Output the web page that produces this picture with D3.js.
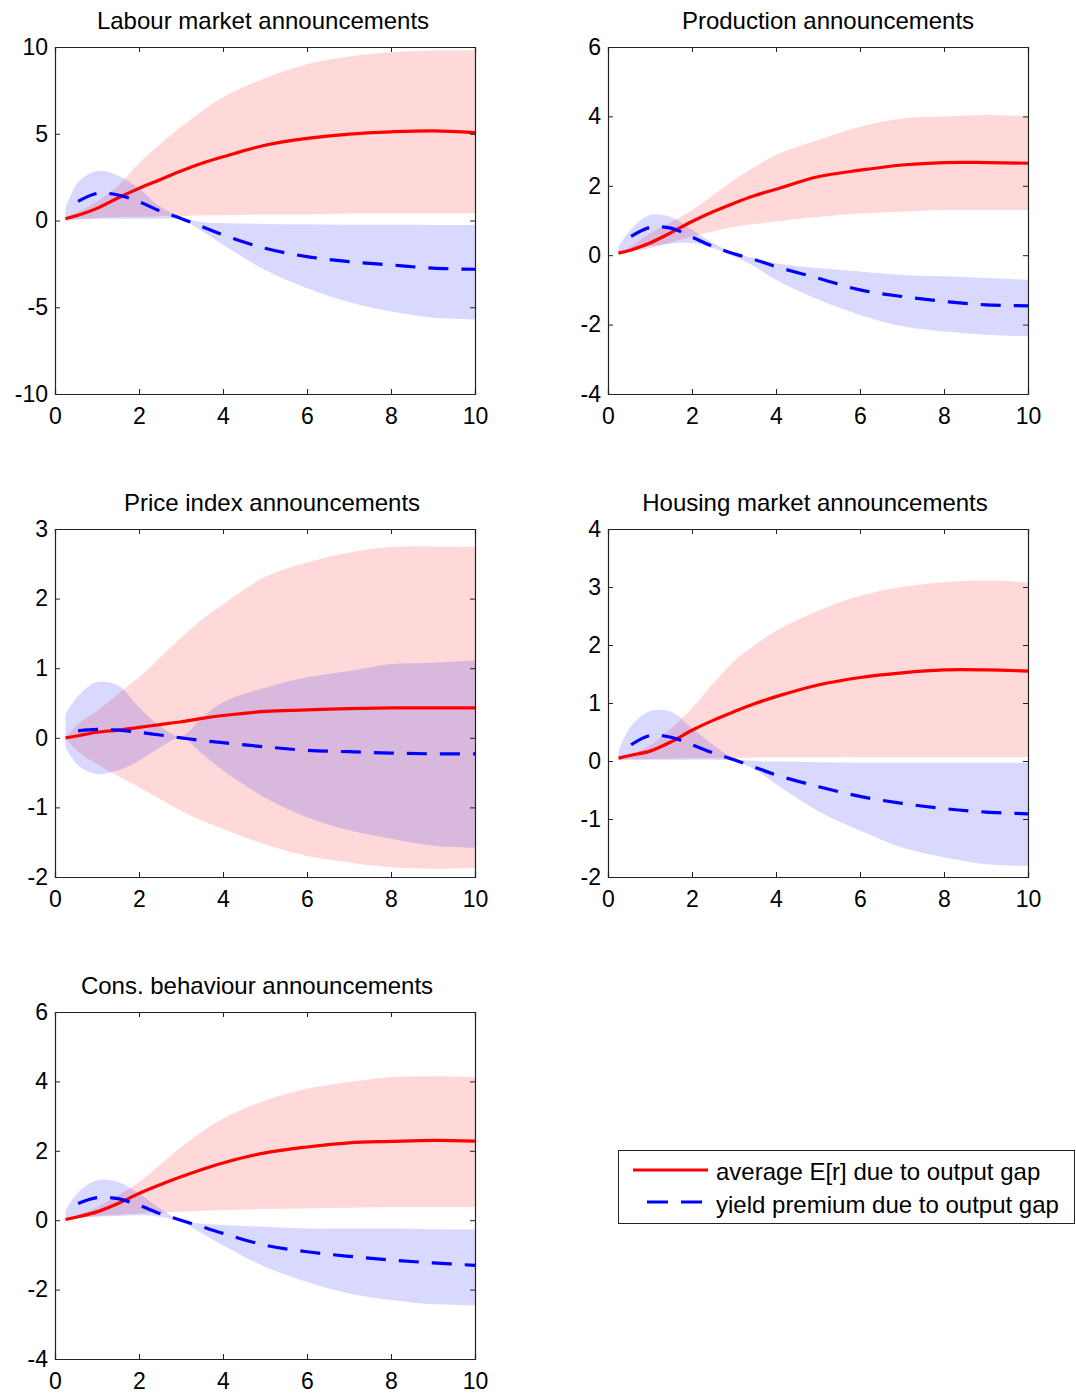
<!DOCTYPE html>
<html>
<head>
<meta charset="utf-8">
<script src="https://cdn.jsdelivr.net/npm/d3@7"></script>
<style>
  html, body { margin: 0; padding: 0; background: #fff; }
  svg { display: block; }
  text { font-family: "Liberation Sans", Arial, sans-serif; fill: #000; }
</style>
</head>
<body>
<svg id="chart" width="1076" height="1393"></svg>
<script>
// ---------- data ----------
const horizon = [0.25, 0.55, 1, 1.5, 2, 2.5, 3, 3.5, 4, 5, 6, 7, 8, 9, 10];
const xTicks = [0, 2, 4, 6, 8, 10];

const titles = [
  "Labour market announcements",
  "Production announcements",
  "Price index announcements",
  "Housing market announcements",
  "Cons. behaviour announcements"
];

const yTicksLabour = [-10, -5, 0, 5, 10];
const yTicksProduction = [-4, -2, 0, 2, 4, 6];
const yTicksPrice = [-2, -1, 0, 1, 2, 3];
const yTicksHousing = [-2, -1, 0, 1, 2, 3, 4];
const yTicksCons = [-4, -2, 0, 2, 4, 6];

// Labour market
const labourRedMid = [0.1, 0.3, 0.7, 1.3, 1.85, 2.35, 2.85, 3.3, 3.67, 4.34, 4.73, 4.98, 5.11, 5.17, 5.07];
const labourRedHi  = [0.2, 0.5, 1.1, 2.0, 3.3, 4.4, 5.4, 6.3, 7.1, 8.2, 9.0, 9.45, 9.7, 9.8, 9.8];
const labourRedLo  = [0.05, 0.1, 0.15, 0.2, 0.2, 0.25, 0.25, 0.3, 0.3, 0.35, 0.35, 0.4, 0.4, 0.4, 0.4];
const labourBlueMid = [null, 1.1, 1.56, 1.47, 1.08, 0.55, 0.12, -0.35, -0.83, -1.6, -2.08, -2.37, -2.56, -2.75, -2.81];
const labourBlueHi  = [0.7, 2.2, 2.85, 2.6, 1.85, 0.8, 0.2, -0.1, -0.15, -0.2, -0.22, -0.24, -0.25, -0.26, -0.26];
const labourBlueLo  = [0.0, 0.05, 0.1, 0.1, 0.1, 0.1, 0.05, -0.6, -1.4, -2.85, -3.9, -4.7, -5.25, -5.6, -5.7];

// Production
const prodRedMid = [0.06, 0.15, 0.35, 0.65, 0.97, 1.25, 1.5, 1.72, 1.9, 2.26, 2.45, 2.6, 2.67, 2.67, 2.65];
const prodRedHi  = [0.06, 0.25, 0.63, 0.95, 1.3, 1.73, 2.17, 2.55, 2.89, 3.32, 3.7, 3.94, 4.0, 4.04, 4.0];
const prodRedLo  = [0.06, 0.1, 0.2, 0.37, 0.54, 0.68, 0.82, 0.9, 0.97, 1.1, 1.2, 1.25, 1.3, 1.3, 1.3];
const prodBlueMid = [null, 0.54, 0.8, 0.78, 0.52, 0.25, 0.04, -0.13, -0.33, -0.66, -1.0, -1.19, -1.33, -1.43, -1.46];
const prodBlueHi  = [0.25, 0.75, 1.16, 1.1, 0.73, 0.35, 0.06, -0.09, -0.23, -0.37, -0.47, -0.57, -0.61, -0.66, -0.71];
const prodBlueLo  = [0.0, 0.12, 0.25, 0.33, 0.35, 0.2, -0.04, -0.33, -0.71, -1.28, -1.72, -2.05, -2.2, -2.29, -2.34];

// Price index
const priceRedMid = [0.0, 0.03, 0.08, 0.11, 0.15, 0.19, 0.23, 0.28, 0.32, 0.38, 0.4, 0.42, 0.43, 0.43, 0.43];
const priceRedHi  = [0.0, 0.2, 0.39, 0.63, 0.87, 1.15, 1.44, 1.7, 1.92, 2.31, 2.52, 2.66, 2.74, 2.75, 2.74];
const priceRedLo  = [0.0, -0.2, -0.38, -0.55, -0.71, -0.88, -1.05, -1.19, -1.31, -1.53, -1.7, -1.79, -1.86, -1.88, -1.87];
const priceBlueMid = [null, 0.1, 0.12, 0.11, 0.08, 0.04, 0.0, -0.04, -0.07, -0.13, -0.18, -0.2, -0.22, -0.23, -0.23];
const priceBlueHi  = [0.34, 0.6, 0.8, 0.75, 0.44, 0.17, 0.02, 0.29, 0.51, 0.72, 0.87, 0.96, 1.06, 1.08, 1.11];
const priceBlueLo  = [-0.14, -0.4, -0.52, -0.47, -0.33, -0.14, 0.0, -0.23, -0.47, -0.86, -1.14, -1.33, -1.45, -1.55, -1.58];

// Housing market
const housingRedMid = [0.05, 0.1, 0.17, 0.33, 0.53, 0.7, 0.85, 0.99, 1.11, 1.31, 1.44, 1.52, 1.57, 1.57, 1.55];
const housingRedHi  = [0.05, 0.12, 0.27, 0.56, 0.91, 1.33, 1.72, 2.0, 2.24, 2.59, 2.85, 3.0, 3.08, 3.11, 3.08];
const housingRedLo  = [0.02, 0.03, 0.03, 0.04, 0.05, 0.05, 0.05, 0.06, 0.06, 0.06, 0.07, 0.07, 0.07, 0.07, 0.07];
const housingBlueMid = [null, 0.28, 0.44, 0.41, 0.28, 0.14, 0.02, -0.11, -0.24, -0.44, -0.61, -0.73, -0.82, -0.88, -0.91];
const housingBlueHi  = [0.17, 0.6, 0.86, 0.85, 0.57, 0.28, 0.05, 0.0, -0.01, -0.02, -0.03, -0.03, -0.03, -0.03, -0.03];
const housingBlueLo  = [0.02, 0.02, 0.02, 0.02, 0.02, 0.02, 0.0, -0.15, -0.4, -0.86, -1.2, -1.49, -1.66, -1.78, -1.81];

// Consumer behaviour
const consRedMid = [0.02, 0.1, 0.24, 0.48, 0.77, 1.02, 1.25, 1.46, 1.65, 1.94, 2.11, 2.23, 2.27, 2.3, 2.28];
const consRedHi  = [0.05, 0.15, 0.38, 0.72, 1.1, 1.6, 2.11, 2.55, 2.93, 3.45, 3.79, 3.98, 4.13, 4.15, 4.13];
const consRedLo  = [0.0, 0.06, 0.12, 0.16, 0.19, 0.22, 0.24, 0.27, 0.29, 0.32, 0.34, 0.36, 0.38, 0.38, 0.38];
const consBlueMid = [null, 0.48, 0.65, 0.62, 0.43, 0.19, 0.0, -0.19, -0.38, -0.72, -0.91, -1.04, -1.15, -1.23, -1.3];
const consBlueHi  = [0.29, 0.8, 1.15, 1.1, 0.77, 0.34, 0.0, -0.1, -0.14, -0.19, -0.24, -0.24, -0.24, -0.26, -0.27];
const consBlueLo  = [0.05, 0.08, 0.1, 0.12, 0.14, 0.1, -0.05, -0.38, -0.72, -1.34, -1.78, -2.11, -2.3, -2.42, -2.45];

const legendLabels = ["average E[r] due to output gap", "yield premium due to output gap"];

// ---------- layout ----------
const panels = [
  { title: titles[0], left: 55, top: 47, w: 420, h: 347, yTicks: yTicksLabour, tdx: -2,
    rm: labourRedMid, rh: labourRedHi, rl: labourRedLo, bm: labourBlueMid, bh: labourBlueHi, bl: labourBlueLo },
  { title: titles[1], left: 608, top: 47, w: 420, h: 347, yTicks: yTicksProduction, tdx: 10,
    rm: prodRedMid, rh: prodRedHi, rl: prodRedLo, bm: prodBlueMid, bh: prodBlueHi, bl: prodBlueLo },
  { title: titles[2], left: 55, top: 529, w: 420, h: 348, yTicks: yTicksPrice, tdx: 7,
    rm: priceRedMid, rh: priceRedHi, rl: priceRedLo, bm: priceBlueMid, bh: priceBlueHi, bl: priceBlueLo },
  { title: titles[3], left: 608, top: 529, w: 420, h: 348, yTicks: yTicksHousing, tdx: -3,
    rm: housingRedMid, rh: housingRedHi, rl: housingRedLo, bm: housingBlueMid, bh: housingBlueHi, bl: housingBlueLo },
  { title: titles[4], left: 55, top: 1012, w: 420, h: 347, yTicks: yTicksCons, tdx: -8,
    rm: consRedMid, rh: consRedHi, rl: consRedLo, bm: consBlueMid, bh: consBlueHi, bl: consBlueLo }
];

const svg = d3.select("#chart");
const RED = "#ff0000", BLUE = "#0000ff";
const DASH = "20,13";
const fmt = d => String(d);

panels.forEach(p => {
  const g = svg.append("g").attr("transform", `translate(${p.left},${p.top})`);
  const x = d3.scaleLinear().domain([0, 10]).range([0, p.w]);
  const y = d3.scaleLinear().domain(d3.extent(p.yTicks)).range([p.h, 0]);

  const rows = horizon.map((h, i) => ({
    x: h, rm: p.rm[i], rh: p.rh[i], rl: p.rl[i], bm: p.bm[i], bh: p.bh[i], bl: p.bl[i]
  }));
  const curve = d3.curveCatmullRom.alpha(0.5);

  g.append("path")
    .attr("d", d3.area().curve(curve).x(d => x(d.x)).y0(d => y(d.rl)).y1(d => y(d.rh))(rows))
    .attr("fill", RED).attr("fill-opacity", 0.15);
  g.append("path")
    .attr("d", d3.area().curve(curve).x(d => x(d.x)).y0(d => y(d.bl)).y1(d => y(d.bh))(rows))
    .attr("fill", BLUE).attr("fill-opacity", 0.15);

  g.append("path")
    .attr("d", d3.line().curve(curve).x(d => x(d.x)).y(d => y(d.rm))(rows))
    .attr("fill", "none").attr("stroke", RED).attr("stroke-width", 3.2);
  g.append("path")
    .attr("d", d3.line().curve(curve).defined(d => d.bm !== null).x(d => x(d.x)).y(d => y(d.bm))(rows))
    .attr("fill", "none").attr("stroke", BLUE).attr("stroke-width", 3.2)
    .attr("stroke-dasharray", DASH);

  // axes (inward ticks, boxed)
  const tl = 5;
  const axB = g.append("g").attr("transform", `translate(0,${p.h})`)
    .call(d3.axisBottom(x).tickValues(xTicks).tickSize(-tl).tickPadding(14).tickFormat(fmt));
  const axT = g.append("g")
    .call(d3.axisTop(x).tickValues(xTicks).tickSize(-tl).tickFormat(""));
  const axL = g.append("g")
    .call(d3.axisLeft(y).tickValues(p.yTicks).tickSize(-tl).tickPadding(7).tickFormat(fmt));
  const axR = g.append("g").attr("transform", `translate(${p.w},0)`)
    .call(d3.axisRight(y).tickValues(p.yTicks).tickSize(-tl).tickFormat(""));
  [axB, axT, axL, axR].forEach(a => {
    a.select(".domain").attr("stroke", "#222").attr("stroke-width", 1.2);
    a.selectAll(".tick line").attr("stroke", "#222");
    a.selectAll("text").style("font-size", "23px").attr("fill", "#000");
  });

  g.append("text")
    .attr("x", p.w / 2 + p.tdx).attr("y", -27)
    .attr("text-anchor", "middle").attr("dominant-baseline", "central")
    .style("font-size", "24px")
    .text(p.title);
});

// ---------- legend ----------
const lg = svg.append("g");
lg.append("rect").attr("x", 618.5).attr("y", 1150.5).attr("width", 456).attr("height", 73)
  .attr("fill", "#fff").attr("stroke", "#222").attr("stroke-width", 1);
lg.append("line").attr("x1", 633).attr("x2", 708).attr("y1", 1170).attr("y2", 1170)
  .attr("stroke", RED).attr("stroke-width", 3);
lg.append("line").attr("x1", 647).attr("x2", 705).attr("y1", 1202).attr("y2", 1202)
  .attr("stroke", BLUE).attr("stroke-width", 3).attr("stroke-dasharray", "21,13");
lg.selectAll("text.lab").data(legendLabels).enter().append("text")
  .attr("class", "lab")
  .attr("x", 716).attr("y", (d, i) => 1171 + i * 33)
  .attr("dominant-baseline", "central")
  .style("font-size", "24px")
  .text(d => d);
</script>
</body>
</html>
